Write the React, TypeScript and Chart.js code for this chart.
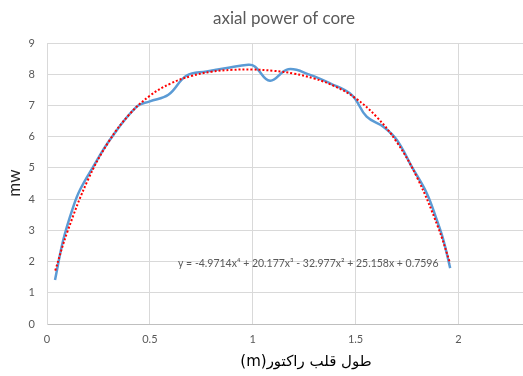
import React, { useEffect, useRef } from "react";
import { Chart, registerables } from "chart.js";

Chart.register(...registerables);

const titleText = "axial power of core";
const xTitleText = "طول قلب راکتور(m)";
const yTitleText = "mw";
const equationText = "y = -4.9714x⁴ + 20.177x³ - 32.977x² + 25.158x + 0.7596";

const powerX = [0.039, 0.079, 0.128, 0.16, 0.225, 0.306, 0.436, 0.5, 0.59, 0.679, 0.776, 0.874, 0.979, 1.01, 1.084, 1.173, 1.279, 1.376, 1.481, 1.554, 1.635, 1.7, 1.773, 1.846, 1.895, 1.927, 1.96];
const powerY = [1.41, 2.69, 3.76, 4.29, 5.04, 5.9, 6.96, 7.13, 7.34, 7.96, 8.09, 8.2, 8.3, 8.25, 7.79, 8.16, 7.98, 7.71, 7.34, 6.64, 6.32, 5.9, 5.04, 4.19, 3.33, 2.69, 1.79];

const trendX = [0.04, 0.1, 0.2, 0.3, 0.4, 0.5, 0.6, 0.7, 0.8, 0.9, 1.0, 1.1, 1.2, 1.3, 1.4, 1.5, 1.6, 1.7, 1.8, 1.9, 1.96];
const trendY = [1.71, 2.97, 4.63, 5.84, 6.71, 7.31, 7.7, 7.94, 8.08, 8.14, 8.15, 8.11, 8.02, 7.86, 7.61, 7.23, 6.65, 5.83, 4.68, 3.12, 1.94];

const textPlugin = {
  id: "textPlugin",
  afterDraw(chart: any) {
    const ctx = chart.ctx;
    ctx.save();
    ctx.fillStyle = "#595959";
    ctx.font = "17px Lato, 'Noto Sans', sans-serif";
    ctx.textAlign = "center";
    ctx.textBaseline = "alphabetic";
    ctx.fillText(titleText, 284, 24);

    ctx.textBaseline = "middle";
    ctx.fillStyle = "#000000";
    ctx.font = "15px 'DejaVu Sans', sans-serif";
    (ctx as any).direction = "rtl";
    ctx.fillText(xTitleText, 306, 362);
    (ctx as any).direction = "ltr";

    ctx.save();
    ctx.translate(15, 183);
    ctx.rotate(-Math.PI / 2);
    ctx.fillStyle = "#262626";
    ctx.font = "17px Lato, 'Noto Sans', sans-serif";
    ctx.fillText(yTitleText, 0, 0);
    ctx.restore();

    ctx.fillStyle = "#595959";
    ctx.font = "10.5px Lato, 'Noto Sans', sans-serif";
    ctx.textAlign = "left";
    ctx.fillText(equationText, 178, 264);
    ctx.restore();
  },
};

export default function App() {
  const ref = useRef<HTMLCanvasElement | null>(null);
  useEffect(() => {
    if (!ref.current) return;
    const chart = new Chart(ref.current, {
      type: "scatter",
      data: {
        datasets: [
          {
            label: "trend",
            data: trendX.map((x, i) => ({ x, y: trendY[i] })),
            showLine: true,
            borderColor: "#ff0000",
            borderWidth: 2,
            borderDash: [2, 2],
            pointRadius: 0,
            tension: 0.4,
            order: 0,
          },
          {
            label: "power",
            data: powerX.map((x, i) => ({ x, y: powerY[i] })),
            showLine: true,
            borderColor: "#5b9bd5",
            borderWidth: 2.5,
            pointRadius: 0,
            tension: 0.4,
            order: 1,
          },
        ],
      },
      options: {
        animation: false,
        responsive: true,
        maintainAspectRatio: false,
        layout: { padding: { top: 43, right: 0, left: 0, bottom: 0 } },
        plugins: {
          legend: { display: false },
          title: { display: false },
          tooltip: { enabled: false },
        },
        scales: {
          x: {
            type: "linear",
            min: 0,
            max: 2.314,
            afterBuildTicks: (scale: any) => {
              scale.ticks = scale.ticks.filter((t: any) => Math.abs(t.value * 2 - Math.round(t.value * 2)) < 1e-6);
            },
            afterFit: (scale: any) => {
              scale.height = 52;
            },
            ticks: {
              stepSize: 0.5,
              padding: 9,
              color: "#595959",
              font: { family: "Lato, 'Noto Sans', sans-serif", size: 11 },
              callback: (v: any) => String(Math.round(Number(v) * 10) / 10),
            },
            grid: { color: "#d9d9d9", drawTicks: false },
            border: { color: "#bfbfbf" },
          },
          y: {
            min: 0,
            max: 9,
            afterFit: (scale: any) => {
              scale.width = 47;
            },
            ticks: {
              stepSize: 1,
              padding: 12,
              color: "#595959",
              font: { family: "Lato, 'Noto Sans', sans-serif", size: 11 },
            },
            grid: { color: "#d9d9d9", drawTicks: false },
            border: { color: "#d9d9d9" },
          },
        },
      },
      plugins: [textPlugin],
    } as any);
    return () => chart.destroy();
  }, []);
  return (
    <div style={{ position: "absolute", left: 0, top: 0, width: 523, height: 376, background: "#fff" }}>
      <canvas ref={ref} />
    </div>
  );
}
